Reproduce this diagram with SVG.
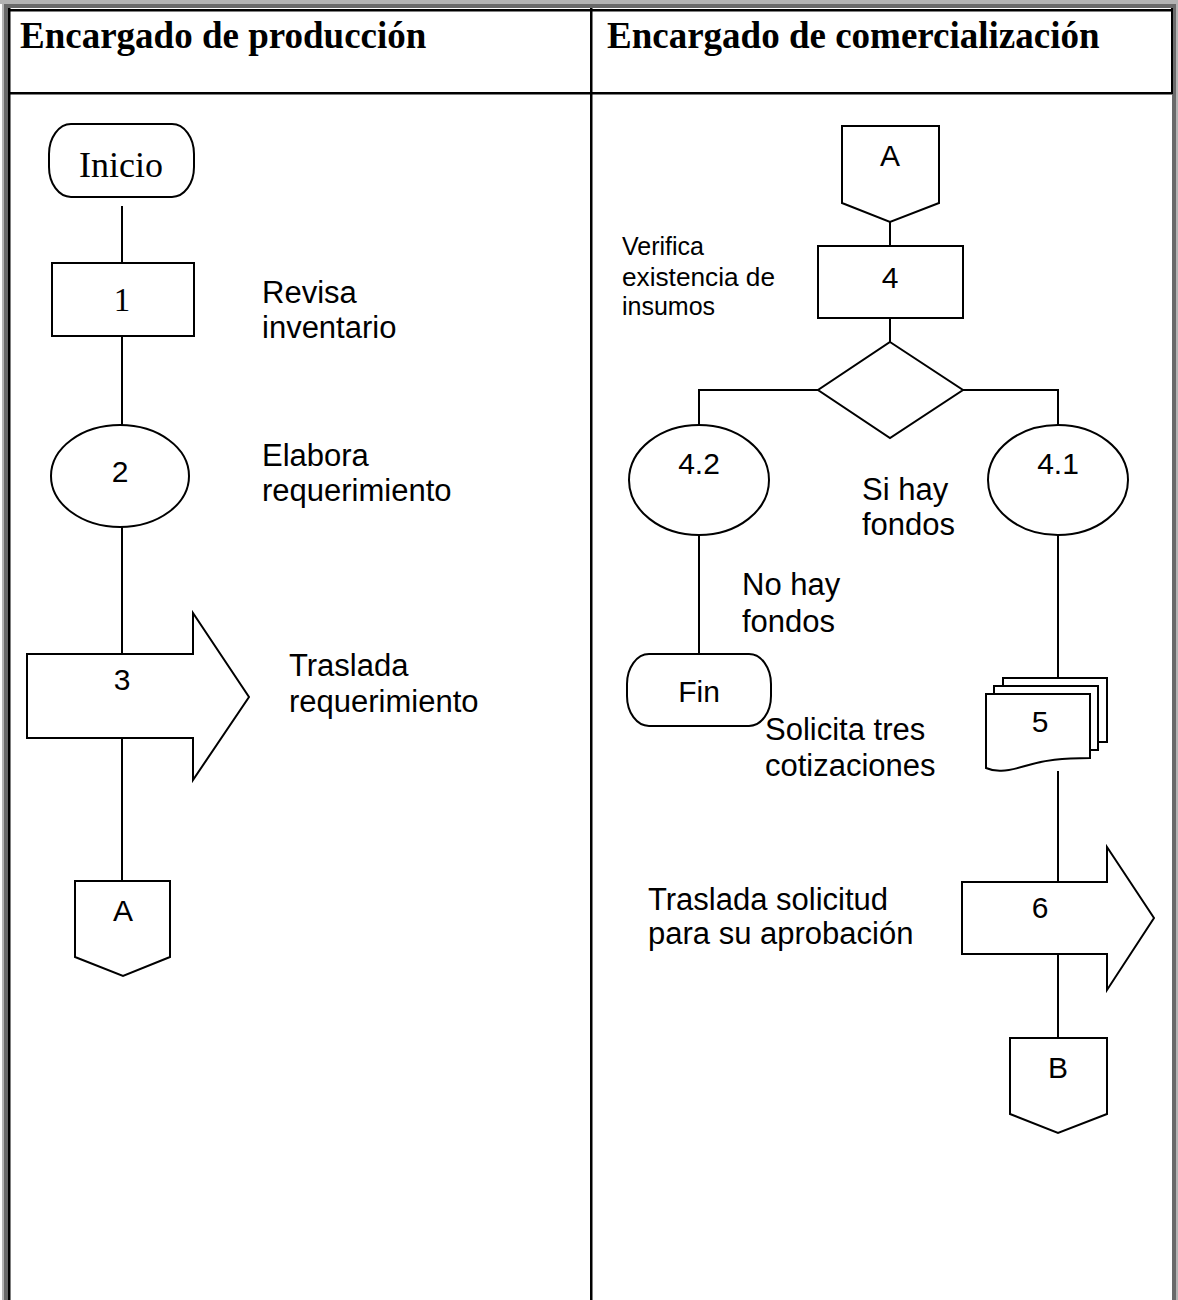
<svg xmlns="http://www.w3.org/2000/svg" width="1178" height="1300" viewBox="0 0 1178 1300">
<style>
.s{fill:#fff;stroke:#000;stroke-width:2}
.c{fill:none;stroke:#000;stroke-width:2}
.h{font-family:"Liberation Serif","Times New Roman",serif;font-weight:bold;font-size:37px;fill:#000}
.n{font-family:"Liberation Sans",Arial,sans-serif;fill:#000;text-anchor:middle;font-size:30px}
.r{font-family:"Liberation Serif","Times New Roman",serif;fill:#000;text-anchor:middle}
.l{font-family:"Liberation Sans",Arial,sans-serif;font-size:31px;fill:#000}
.sm{font-family:"Liberation Sans",Arial,sans-serif;font-size:25px;fill:#000}
</style>
<rect width="1178" height="1300" fill="#fff"/>
<g id="frame">
<rect x="0" y="0" width="1178" height="4" fill="#b4b4b4"/>
<rect x="2" y="0" width="2" height="1300" fill="#b4b4b4"/>
<rect x="4" y="4" width="1172" height="4" fill="#6a6a6a"/>
<rect x="4" y="4" width="4" height="1296" fill="#6a6a6a"/>
<rect x="1172" y="4" width="4" height="1296" fill="#6a6a6a"/>
<rect x="1176" y="0" width="2" height="1300" fill="#b4b4b4"/>
<rect x="8" y="9" width="1164" height="2.5" fill="#000"/>
<rect x="8" y="8" width="2.5" height="1292" fill="#000"/>
<rect x="1171" y="8" width="2" height="86" fill="#000"/>
<rect x="8" y="92" width="1164" height="2.5" fill="#000"/>
<rect x="590" y="8" width="2.5" height="1292" fill="#000"/>
<text class="h" x="20" y="48">Encargado de producción</text>
<text class="h" x="607" y="48">Encargado de comercialización</text>
</g>
<g id="connectors">
<path class="c" d="M122 206V263M122 336V425M122 527V654M122 738V881"/>
<path class="c" d="M890 222V246M890 318V342M818 390H699V425M963 390H1058V425M699 535V654M1058 535V678M1058 771V882M1058 954V1038"/>
</g>
<g id="inicio"><rect class="s" x="49" y="124" width="145" height="73" rx="22" ry="30"/><text class="r" x="121" y="177" font-size="36">Inicio</text></g>
<g id="n1"><rect class="s" x="52" y="263" width="142" height="73"/><text class="r" x="122" y="311" font-size="33">1</text></g>
<g id="n2"><ellipse class="s" cx="120" cy="476" rx="69" ry="51"/><text class="n" x="120" y="482">2</text></g>
<g id="n3"><path class="s" d="M27 654H193V613L249 697L193 780V738H27Z"/><text class="n" x="122" y="690">3</text></g>
<g id="connA1"><path class="s" d="M75 881H170V957L123 976L75 957Z"/><text class="n" x="123" y="921" font-size="32">A</text></g>
<g id="lbl1"><text class="l" x="262" y="303">Revisa</text><text class="l" x="262" y="338">inventario</text></g>
<g id="lbl2"><text class="l" x="262" y="466">Elabora</text><text class="l" x="262" y="501">requerimiento</text></g>
<g id="lbl3"><text class="l" x="289" y="676">Traslada</text><text class="l" x="289" y="712">requerimiento</text></g>
<g id="connA2"><path class="s" d="M842 126H939V203L890 222L842 203Z"/><text class="n" x="890" y="166">A</text></g>
<g id="n4"><rect class="s" x="818" y="246" width="145" height="72"/><text class="n" x="890" y="288">4</text></g>
<g id="lbl4"><text class="sm" x="622" y="255">Verifica</text><text class="sm" x="622" y="286" textLength="153" lengthAdjust="spacingAndGlyphs">existencia de</text><text class="sm" x="622" y="315">insumos</text></g>
<g id="dec"><path class="s" d="M890 342L963 390L890 438L818 390Z"/></g>
<g id="n42"><ellipse class="s" cx="699" cy="480" rx="70" ry="55"/><text class="n" x="699" y="474">4.2</text></g>
<g id="n41"><ellipse class="s" cx="1058" cy="480" rx="70" ry="55"/><text class="n" x="1058" y="474">4.1</text></g>
<g id="lblsi"><text class="l" x="862" y="500">Si hay</text><text class="l" x="862" y="535">fondos</text></g>
<g id="lblno"><text class="l" x="742" y="595">No hay</text><text class="l" x="742" y="632">fondos</text></g>
<g id="fin"><rect class="s" x="627" y="654" width="144" height="72" rx="22" ry="30"/><text class="n" x="699" y="702">Fin</text></g>
<g id="n5">
<rect class="s" x="1003" y="678" width="104" height="64"/>
<rect class="s" x="994" y="686" width="104" height="64"/>
<path class="s" d="M986 694H1090V758C1062 758 1045 760 1025 766C1005 772 995 772 986 768Z"/>
<text class="n" x="1040" y="732">5</text>
</g>
<g id="lbl5"><text class="l" x="765" y="740">Solicita tres</text><text class="l" x="765" y="776">cotizaciones</text></g>
<g id="n6"><path class="s" d="M962 882H1107V847L1154 918L1107 990V954H962Z"/><text class="n" x="1040" y="918">6</text></g>
<g id="lbl6"><text class="l" x="648" y="910">Traslada solicitud</text><text class="l" x="648" y="944">para su aprobación</text></g>
<g id="connB"><path class="s" d="M1010 1038H1107V1114L1058 1133L1010 1114Z"/><text class="n" x="1058" y="1078" font-size="32">B</text></g>
</svg>
